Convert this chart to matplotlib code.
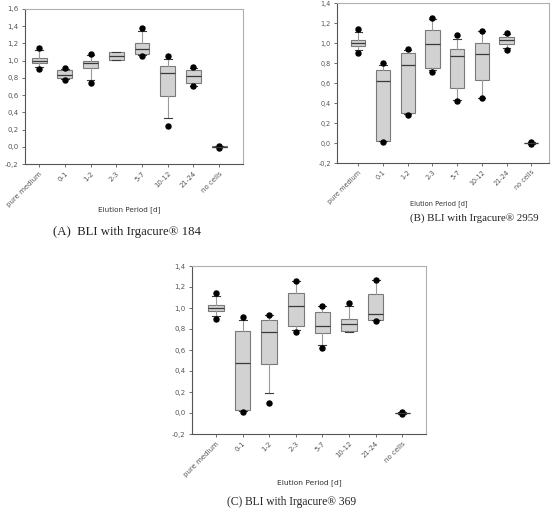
import matplotlib
matplotlib.use("Agg")
import matplotlib.pyplot as plt
from matplotlib.ticker import FuncFormatter, MultipleLocator

W, H = 554, 511

groups = ["pure medium", "0-1", "1-2", "2-3", "5-7", "10-12", "21-24", "no cells"]

# (A) Irgacure 184
a_med = [1.00, 0.83, 0.975, 1.05, 1.14, 0.86, 0.82, 0.0]
a_q1 = [0.97, 0.80, 0.91, 1.005, 1.075, 0.59, 0.74, -0.004]
a_q3 = [1.03, 0.89, 1.00, 1.10, 1.20, 0.935, 0.89, 0.004]
a_lo = [0.93, 0.79, 0.77, 1.005, 1.07, 0.335, 0.71, -0.006]
a_hi = [1.12, 0.90, 1.06, 1.10, 1.35, 1.02, 0.915, 0.006]
a_fl = [[1.15, 0.905], [0.915, 0.775], [1.08, 0.74], [], [1.38, 1.05], [1.05, 0.245], [0.93, 0.70], [0.01, -0.01]]

# (B) Irgacure 2959
b_med = [1.005, 0.625, 0.785, 0.995, 0.87, 0.895, 1.035, 0.0]
b_q1 = [0.975, 0.025, 0.305, 0.755, 0.555, 0.635, 0.995, -0.004]
b_q3 = [1.03, 0.735, 0.90, 1.135, 0.945, 1.0, 1.065, 0.004]
b_lo = [0.93, 0.02, 0.29, 0.73, 0.435, 0.45, 0.95, -0.006]
b_hi = [1.11, 0.78, 0.93, 1.235, 1.045, 1.12, 1.09, 0.006]
b_fl = [[1.145, 0.905], [0.80, 0.015], [0.94, 0.28], [1.25, 0.71], [1.085, 0.42], [1.12, 0.45], [1.10, 0.935], [0.01, -0.01]]

# (C) Irgacure 369
c_med = [1.003, 0.48, 0.77, 1.02, 0.825, 0.845, 0.94, 0.0]
c_q1 = [0.97, 0.025, 0.465, 0.825, 0.76, 0.785, 0.89, -0.004]
c_q3 = [1.03, 0.785, 0.89, 1.145, 0.96, 0.90, 1.13, 0.004]
c_lo = [0.92, 0.02, 0.195, 0.79, 0.65, 0.775, 0.885, -0.006]
c_hi = [1.115, 0.885, 0.935, 1.26, 1.02, 1.02, 1.265, 0.006]
c_fl = [[1.145, 0.90], [0.915, 0.013], [0.935, 0.10], [1.26, 0.77], [1.02, 0.615], [1.045], [1.27, 0.875], [0.01, -0.01]]


def px_axes(fig, x0, y0, x1, y1):
    # pixel box (top-left origin) -> figure fraction
    return fig.add_axes([x0 / W, 1 - y1 / H, (x1 - x0) / W, (y1 - y0) / H])


def draw_panel(ax, med, q1, q3, lo, hi, fl, ytop, xlim, fs):
    stats = []
    for i in range(len(groups)):
        stats.append(dict(med=med[i], q1=q1[i], q3=q3[i], whislo=lo[i], whishi=hi[i], fliers=fl[i]))
    ax.bxp(stats, positions=range(1, len(groups) + 1), widths=0.58, capwidths=0.3,
           patch_artist=True, showfliers=True,
           boxprops=dict(facecolor="#d2d2d2", edgecolor="#7a7a7a", linewidth=0.8),
           medianprops=dict(color="#3a3a3a", linewidth=0.9),
           whiskerprops=dict(color="#9a9a9a", linewidth=0.8),
           capprops=dict(color="#3a3a3a", linewidth=0.8),
           flierprops=dict(marker="o", markerfacecolor="black", markeredgecolor="black", markersize=3.6))
    ax.set_ylim(-0.2, ytop)
    ax.set_xlim(*xlim)
    ax.yaxis.set_major_locator(MultipleLocator(0.2))
    ax.yaxis.set_major_formatter(FuncFormatter(lambda v, p: f"{v:.1f}".replace(".", ",")))
    ax.set_xticks(range(1, len(groups) + 1))
    ax.set_xticklabels(groups, rotation=45, ha="right", rotation_mode="anchor")
    ax.tick_params(axis="both", labelsize=fs, colors="#555555", length=2.5, width=0.6, direction="out", pad=2)
    for s in ["top", "right"]:
        ax.spines[s].set_color("#b0b0b0")
        ax.spines[s].set_linewidth(0.8)
    for s in ["left", "bottom"]:
        ax.spines[s].set_color("#555555")
        ax.spines[s].set_linewidth(0.8)


fig = plt.figure(figsize=(W / 100, H / 100), dpi=100)

ax_a = px_axes(fig, 25, 9, 243, 164)
draw_panel(ax_a, a_med, a_q1, a_q3, a_lo, a_hi, a_fl, 1.6, (0.45, 8.93), 5)
ax_b = px_axes(fig, 337, 3, 549, 163)
draw_panel(ax_b, b_med, b_q1, b_q3, b_lo, b_hi, b_fl, 1.4, (0.14, 8.72), 4.7)
ax_c = px_axes(fig, 192, 266, 426, 434)
draw_panel(ax_c, c_med, c_q1, c_q3, c_lo, c_hi, c_fl, 1.4, (0.1, 8.89), 5)

for x, y, fs in [(129, 210, 5.2), (439, 204, 4.8), (309, 483, 5.4)]:
    fig.text(x / W, 1 - y / H, "Elution Period [d]", fontsize=fs, color="#333333", ha="center", va="center")

caps = [(127, 232, "(A)  BLI with Irgacure® 184", 9.2),
        (474, 218, "(B) BLI with Irgacure® 2959", 7.8),
        (292, 502, "(C) BLI with Irgacure® 369", 8.3)]
for x, y, t, fs in caps:
    fig.text(x / W, 1 - y / H, t, fontsize=fs, family="Liberation Serif", color="#222222", ha="center", va="center")

fig.savefig("out.png", dpi=100)
